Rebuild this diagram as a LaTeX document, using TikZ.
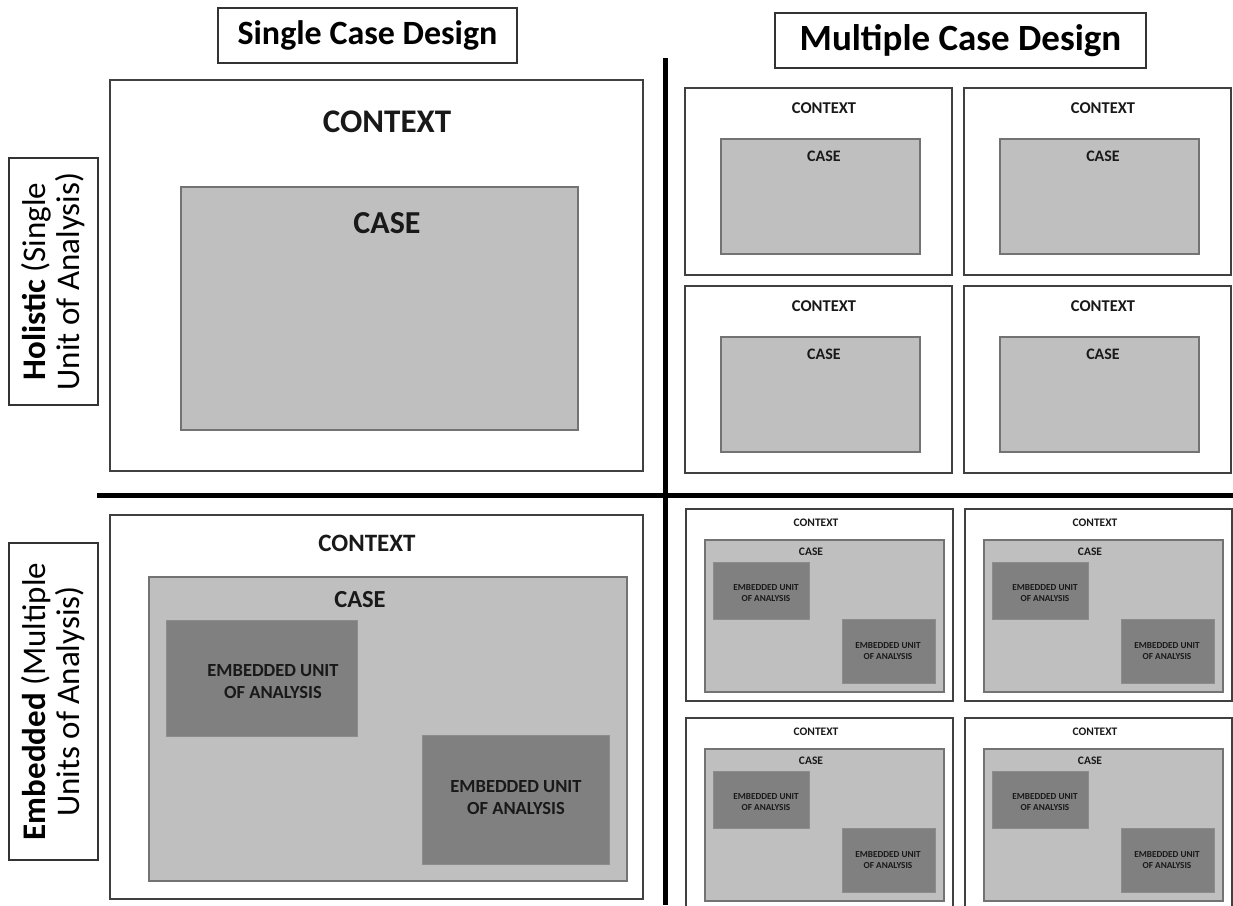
\documentclass[tikz,border=0pt]{standalone}
\usepackage{fontspec}
\setmainfont{Carlito}

\begin{document}
\begin{tikzpicture}[x=1pt,y=-1pt,
  every node/.style={inner sep=0pt,outer sep=0pt},
  lbl/.style 2 args={font=\bfseries\fontsize{#1}{#2}\selectfont,align=center,text=black!90},
  headbox/.style={draw=black!80,line width=1.2pt,fill=white,
    font=\bfseries\fontsize{34}{40}\selectfont},
  sidebox/.style={draw=black!80,line width=1.2pt,fill=white,rotate=90,
    align=center,font=\fontsize{33}{34}\selectfont},
  context/.style={draw=black!75,line width=2.2pt,fill=white,anchor=north west},
  casebox/.style={draw=black!55,line width=1.5pt,fill=black!25,anchor=north west},
  unitbox/.style={draw=black!45,line width=0.8pt,fill=black!50,anchor=north west},
  divider/.style={line width=5pt,black}]

  \useasboundingbox (0,0) rectangle (1233,905);
  \clip (0,0) rectangle (1233,905);

  \node[headbox,minimum width=299pt,minimum height=55pt] (single) at (367.5,35.5)
    {Single Case Design};
  \node[headbox,minimum width=371pt,minimum height=55pt,
    font=\bfseries\fontsize{37}{44}\selectfont] (multiple) at (960.5,40.5)
    {Multiple Case Design};

  \node[sidebox,minimum width=247pt,minimum height=89pt] (holistic) at (53.5,281.5)
    {\textbf{Holistic} (Single\\Unit of Analysis)};
  \node[sidebox,minimum width=317pt,minimum height=89pt] (embedded) at (53.5,701.5)
    {\textbf{Embedded} (Multiple\\Units of Analysis)};

  \coordinate (vtop) at (665,58);
  \coordinate (vbot) at (665,905);
  \coordinate (hleft) at (97,495);
  \coordinate (hright) at (1233,495);
  \draw[divider] (vtop) -- (vbot);
  \draw[divider] (hleft) -- (hright);

  % holistic, single case
  \node[context,minimum width=533pt,minimum height=391pt] (hctx) at (110,80) {};
  \node[casebox,minimum width=397pt,minimum height=243pt] (hcase) at (181,187) {};
  \node[lbl={33}{40}] (hctxlbl) at (387,122) {CONTEXT};
  \node[lbl={32}{38}] (hcaselbl) at (387,223) {CASE};

  % holistic, multiple cases
  \foreach \i/\dx/\dy in {1/0/0,2/279/0,3/0/198,4/279/198}{
    \node[context,line width=2pt,minimum width=267pt,minimum height=187pt]
      (mhctx\i) at (685+\dx,88+\dy) {};
    \node[casebox,minimum width=199pt,minimum height=115pt]
      (mhcase\i) at (721+\dx,139+\dy) {};
    \node[lbl={16.5}{20}] (mhctxlbl\i) at (824+\dx,108+\dy) {CONTEXT};
    \node[lbl={16}{20}] (mhcaselbl\i) at (824+\dx,156+\dy) {CASE};
  }

  % embedded, single case
  \node[context,minimum width=533pt,minimum height=384pt] (ectx) at (110,515) {};
  \node[casebox,minimum width=478pt,minimum height=304pt] (ecase) at (149,577) {};
  \node[unitbox,minimum width=191pt,minimum height=116pt] (eunita) at (166,620) {};
  \node[unitbox,minimum width=187pt,minimum height=129pt] (eunitb) at (422,735) {};
  \node[lbl={25}{30}] (ectxlbl) at (367,543) {CONTEXT};
  \node[lbl={24.5}{30}] (ecaselbl) at (360,600) {CASE};
  \node[lbl={18.5}{22}] (eunitalbl) at (273,682) {EMBEDDED UNIT\\OF ANALYSIS};
  \node[lbl={18.5}{22}] (eunitblbl) at (516,798) {EMBEDDED UNIT\\OF ANALYSIS};

  % embedded, multiple cases
  \foreach \i/\dx/\dy in {1/0/0,2/279/0,3/0/209,4/279/209}{
    \node[context,line width=1.5pt,minimum width=267pt,minimum height=192pt]
      (mectx\i) at (686+\dx,509+\dy) {};
    \node[casebox,line width=1.2pt,minimum width=239pt,minimum height=152pt]
      (mecase\i) at (705+\dx,540+\dy) {};
    \node[unitbox,minimum width=96pt,minimum height=57pt]
      (meunita\i) at (713+\dx,562+\dy) {};
    \node[unitbox,minimum width=93pt,minimum height=64pt]
      (meunitb\i) at (842+\dx,619+\dy) {};
    \node[lbl={11.5}{13}] (mectxlbl\i) at (816+\dx,523+\dy) {CONTEXT};
    \node[lbl={11.5}{13}] (mecaselbl\i) at (811+\dx,552+\dy) {CASE};
    \node[lbl={9.2}{11}] (meunitalbl\i) at (766+\dx,593+\dy) {EMBEDDED UNIT\\OF ANALYSIS};
    \node[lbl={9.2}{11}] (meunitblbl\i) at (888+\dx,651+\dy) {EMBEDDED UNIT\\OF ANALYSIS};
  }
\end{tikzpicture}
\end{document}
